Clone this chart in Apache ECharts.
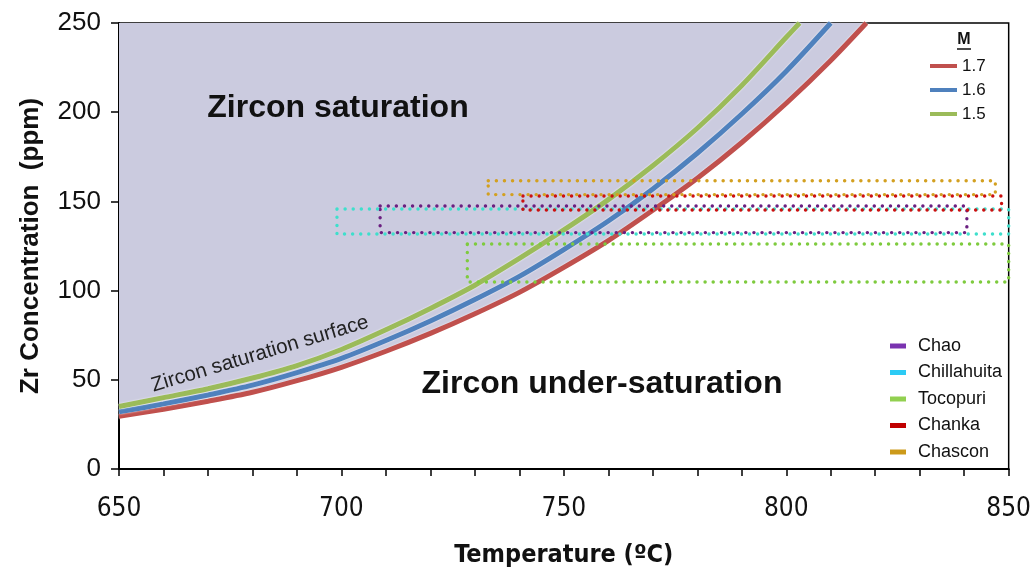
<!DOCTYPE html>
<html>
<head>
<meta charset="utf-8">
<script src="https://cdn.jsdelivr.net/npm/echarts@6/dist/echarts.min.js"></script>
<style>html,body{margin:0;padding:0;background:#fff;overflow:hidden;}#chart{width:1034px;height:573px;}</style>
</head>
<body>
<div id="chart"></div>
<script>
// Zircon saturation curves (temperature in °C, Zr in ppm)
const tempM17 = [650,660,670,680,690,700,710,720,730,740,750,760,770,780,790,800,810,818];
const zrM17   = [29.5,33.5,38,43,49.5,57,66,76,87,99,113,128,145,163,183,205,229,250];
const tempM16 = [650,660,670,680,690,700,710,720,730,740,750,760,770,780,790,800,810];
const zrM16   = [32,36.5,41.5,47,54,62,72,83,95,108,123,139,157,177,199,223,250];
const tempM15 = [650,660,670,680,690,700,710,720,730,740,750,760,770,780,790,800,803];
const zrM15   = [35,40,45,51,58,67,78,90,103,118,134,151,170,191,215,242,250];
const curveNames = ['1.7','1.6','1.5'];

// Dotted boxes: temperature and Zr ranges of each unit
const boxNames = ['Chao','Chillahuita','Tocopuri','Chanka','Chascon'];
const boxTmin  = [708.7, 699, 728.3, 740.8, 733];
const boxTmax  = [840.6, 850, 850, 848.4, 847];
const boxZrMin = [132.5, 131.7, 104.8, 145.2, 153.8];
const boxZrMax = [147.4, 145.7, 126.1, 153, 161.6];

// Axis ticks
const xTicks = [650,700,750,800,850];
const yTicks = [0,50,100,150,200,250];

const curveColors = ['#C0504D','#4F81BD','#9BBB59'];
const boxLineColors = ['#6A1F80','#3EDFCC','#7ECB3E','#CC1010','#D3A020'];
const boxLegendColors = ['#7A33B0','#2CCBF5','#92D050','#C00000','#CC9A1A'];

const zip = (a,b) => a.map((v,i)=>[v,b[i]]);
const curves = [zip(tempM17,zrM17), zip(tempM16,zrM16), zip(tempM15,zrM15)];

const series = [];
// saturated region (above the M=1.7 curve)
series.push({
  type:'line', name:'fill', data:curves[0], smooth:0.3, showSymbol:false, silent:true,
  lineStyle:{width:0}, areaStyle:{origin:'end', color:'#CBCBDF', opacity:1}, z:1
});
curves.forEach((c,i)=>{
  series.push({
    type:'line', name:curveNames[i], data:c, smooth:0.3, showSymbol:false,
    lineStyle:{width:5, color:curveColors[i], shadowColor:'rgba(255,255,255,0.9)', shadowBlur:2},
    itemStyle:{color:curveColors[i]}, z:3
  });
});
boxNames.forEach((n,i)=>{
  const x1=boxTmin[i], x2=boxTmax[i], y1=boxZrMin[i], y2=boxZrMax[i];
  series.push({
    type:'line', name:n, showSymbol:false, z:4,
    data:[[x1,y2],[x2,y2],[x2,y1],[x1,y1],[x1,y2]],
    lineStyle:{width:3.4, color:boxLineColors[i], type:[0.1,8], cap:'round'},
    itemStyle:{color:boxLegendColors[i]}
  });
});

const narrow = '"DejaVu Sans Condensed", "Liberation Sans Narrow", "Arial Narrow", sans-serif';
const sans = '"Liberation Sans", Arial, sans-serif';

const chart = echarts.init(document.getElementById('chart'), null, {renderer:'canvas'});
chart.setOption({
  animation:false,
  backgroundColor:'#ffffff',
  grid:{left:119, right:21, top:23, bottom:97, show:true, borderColor:'#000', borderWidth:1.5, backgroundColor:'transparent'},
  xAxis:{
    type:'value', min:xTicks[0], max:xTicks[xTicks.length-1], interval:50,
    name:'Temperature (ºC)', nameLocation:'middle', nameGap:74,
    nameTextStyle:{fontFamily:narrow, fontWeight:'bold', fontSize:25, color:'#111'},
    axisLine:{show:true, lineStyle:{color:'#000', width:2}},
    axisTick:{show:true, length:7, lineStyle:{color:'#000', width:1.5}},
    minorTick:{show:true, splitNumber:5, length:7, lineStyle:{color:'#000', width:1.5}},
    splitLine:{show:false},
    axisLabel:{margin:27, fontFamily:narrow, fontSize:26, color:'#111'}
  },
  yAxis:{
    type:'value', min:yTicks[0], max:yTicks[yTicks.length-1], interval:50,
    name:'Zr Concentration  (ppm)', nameLocation:'middle', nameGap:75,
    nameTextStyle:{fontFamily:sans, fontWeight:'bold', fontSize:26, color:'#111'},
    axisLine:{show:true, lineStyle:{color:'#000', width:2}},
    axisTick:{show:true, length:8, lineStyle:{color:'#000', width:1.5}},
    splitLine:{show:false},
    axisLabel:{margin:18, fontFamily:sans, fontSize:26, color:'#111'}
  },
  legend:[
    {
      data:curveNames, orient:'vertical', left:930, top:57, padding:0, itemGap:6,
      icon:'rect', itemWidth:27, itemHeight:4,
      textStyle:{fontFamily:sans, fontSize:17, lineHeight:18, color:'#111'}
    },
    {
      data:boxNames.map((n,i)=>({name:n, itemStyle:{color:boxLegendColors[i], borderWidth:0}})),
      orient:'vertical', left:890, top:337, padding:0, itemGap:8.5,
      icon:'rect', itemWidth:16, itemHeight:5,
      itemStyle:{borderWidth:0},
      textStyle:{fontFamily:sans, fontSize:18, lineHeight:18, color:'#111', padding:[0,0,0,7]}
    }
  ],
  graphic:[
    {type:'text', x:338, y:108, z:10, style:{text:'Zircon saturation', fill:'#111', font:'bold 32px "Liberation Sans", Arial, sans-serif', align:'center', verticalAlign:'middle'}},
    {type:'text', x:602, y:384, z:10, style:{text:'Zircon under-saturation', fill:'#111', font:'bold 32px "Liberation Sans", Arial, sans-serif', align:'center', verticalAlign:'middle'}},
    {type:'text', x:260, y:354, rotation:0.29, z:10, style:{text:'Zircon saturation surface', fill:'#222', font:'20.5px "Liberation Sans", Arial, sans-serif', align:'center', verticalAlign:'middle'}},
    {type:'text', x:964, y:40, z:10, style:{text:'M', fill:'#111', font:'bold 16px "Liberation Sans", Arial, sans-serif', align:'center', verticalAlign:'middle'}},
    {type:'line', z:10, shape:{x1:957, y1:49, x2:971, y2:49}, style:{stroke:'#111', lineWidth:1.5}}
  ],
  series:series
});
</script>
</body>
</html>
